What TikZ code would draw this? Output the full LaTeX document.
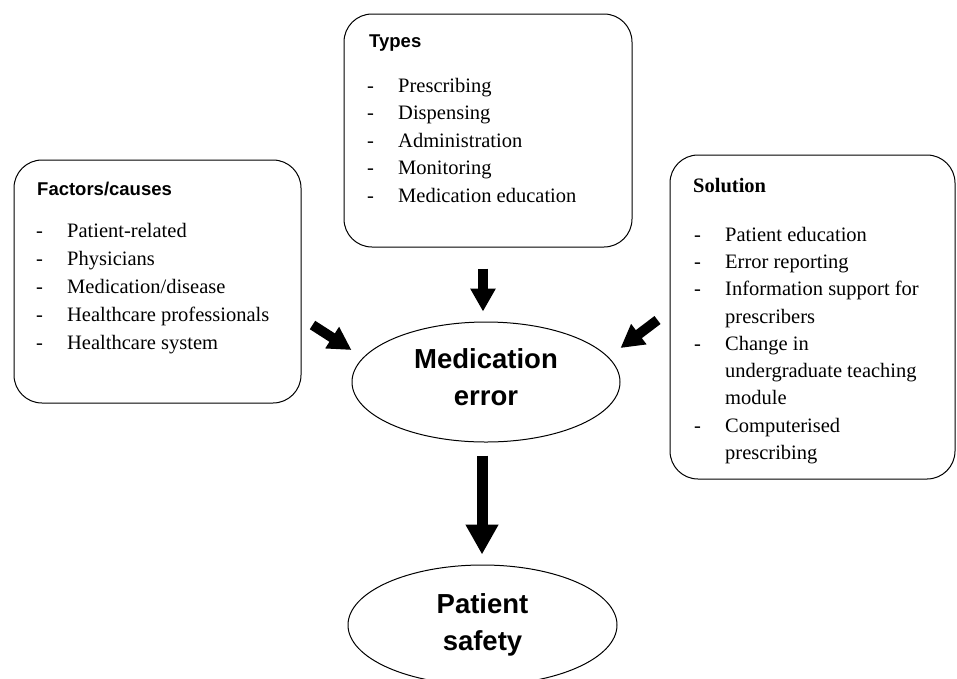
\documentclass[tikz,border=0pt]{standalone}
\usepackage{fontspec}
\setmainfont{Liberation Serif}
\setsansfont{Liberation Sans}
\usetikzlibrary{arrows.meta,shapes.geometric}
\newcommand{\dashitem}[1]{\makebox[31pt][l]{-}#1}
\newcommand{\moreline}[1]{\hspace*{31pt}#1}

\begin{document}
\begin{tikzpicture}[x=1pt, y=-1pt,
  box/.style={draw, line width=1pt, rounded corners=28pt, inner sep=0pt},
  head/.style={anchor=base west, inner sep=0pt, font=\sffamily\bfseries\fontsize{18.5}{22}\selectfont},
  items/.style={anchor=base west, inner sep=0pt, align=left, font=\fontsize{20.5}{27.6}\selectfont},
  oval/.style={draw, ellipse, line width=1pt, inner sep=0pt, align=center, text depth=9pt, font=\sffamily\bfseries\fontsize{27.5}{37}\selectfont},
  fatarrow/.style={line width=10pt, -{Triangle[width=24pt,length=23pt]}},
  bigarrow/.style={line width=11pt, -{Triangle[width=31pt,length=30pt]}}]

\useasboundingbox (0,0) rectangle (957,678);

\node (types) at (488,130.5) [box, minimum width=288pt, minimum height=233pt]{};
\node (typeshead) at (369,47) [head]{Types};
\node (typeslist) at (367,202.4) [items]{\dashitem{Prescribing}\\ \dashitem{Dispensing}\\ \dashitem{Administration}\\ \dashitem{Monitoring}\\ \dashitem{Medication education}};

\node (causes) at (157.5,281.5) [box, minimum width=287pt, minimum height=243pt]{};
\node (causeshead) at (37,195) [head]{Factors/causes};
\node (causeslist) at (36,349) [items, font=\fontsize{20.5}{28}\selectfont]{\dashitem{Patient-related}\\ \dashitem{Physicians}\\ \dashitem{Medication/disease}\\ \dashitem{Healthcare professionals}\\ \dashitem{Healthcare system}};

\node (solution) at (812.5,317) [box, minimum width=285pt, minimum height=324pt]{};
\node (solutionhead) at (693,192) [head, font=\bfseries\fontsize{20.5}{24}\selectfont]{Solution};
\node (solutionlist) at (694,459.5) [items, font=\fontsize{20.5}{27.3}\selectfont]{\dashitem{Patient education}\\ \dashitem{Error reporting}\\ \dashitem{Information support for}\\ \moreline{prescribers}\\ \dashitem{Change in}\\ \moreline{undergraduate teaching}\\ \moreline{module}\\ \dashitem{Computerised}\\ \moreline{prescribing}};

\node (error) at (486,382) [oval, minimum width=268pt, minimum height=120pt]{Medication\\error};
\node (safety) at (482.5,625) [oval, text depth=6pt, minimum width=269pt, minimum height=120pt]{Patient\\safety};

\draw[fatarrow, shorten <=21pt, shorten >=10pt] ([xshift=-5pt]types.south) -- ([xshift=-3pt]error.north);
\draw[fatarrow] ([xshift=11pt,yshift=-43.5pt]causes.east) -- ([yshift=32pt]error.west);
\draw[fatarrow] ([xshift=-12pt,yshift=-3pt]solution.west) -- ([yshift=34pt]error.east);
\draw[bigarrow, shorten <=13pt, shorten >=10pt] ([xshift=-4pt]error.south) -- ([xshift=-0.5pt]safety.north);

\end{tikzpicture}
\end{document}
